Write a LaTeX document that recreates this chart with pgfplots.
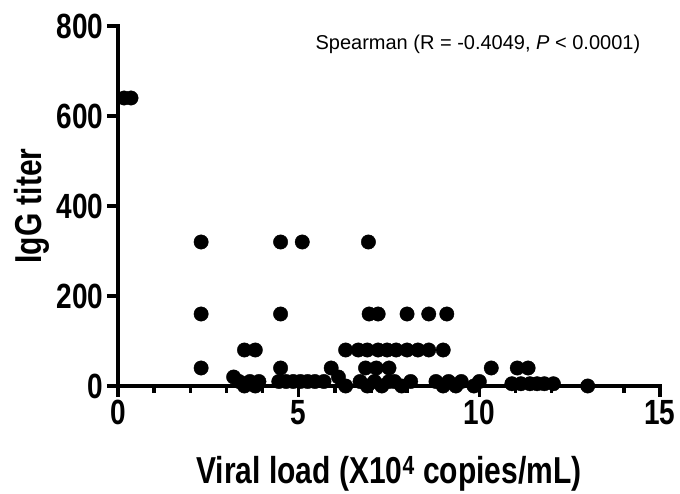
\documentclass[border=0pt]{standalone}
\usepackage{fontspec}
\setmainfont{Liberation Sans}
\newfontfamily\tallfont{Liberation Sans}[FakeStretch=0.8]
\usepackage{pgfplots}
\pgfplotsset{compat=1.18}
\pgfplotsset{every tick/.style={line width=3.5pt, black}}
\begin{document}
\begin{tikzpicture}
\begin{axis}[
  scale only axis, width=542pt, height=360pt,
  xmin=0, xmax=15, ymin=0, ymax=800,
  axis lines=left,
  axis line style={-, line width=3.2pt, line cap=rect},
  xtick={0,5,10,15}, minor x tick num=4,
  ytick={0,200,400,600,800},
  tick align=outside,
  major tick length=11pt, minor tick length=7pt,
  tick style={line width=3.5pt, black, line cap=butt},
  /pgf/number format/assume math mode=true,
  ticklabel style={font=\tallfont\fontsize{35pt}{36pt}\selectfont\bfseries},
  xlabel={Viral load (X10\textsuperscript{4} copies/mL)},
  ylabel={IgG titer},
  label style={font=\tallfont\fontsize{37.5pt}{38pt}\selectfont\bfseries},
  x label style={at={(axis description cs:0.5,0)}, anchor=base, yshift=-98pt},
  y label style={at={(axis description cs:-0.142,0.5)}, anchor=base},
  clip=false,
]
\addplot[only marks, mark=*, mark size=7.2pt, black, mark options={fill=black, draw=black}] coordinates {
(0.17,640) (0.36,640)
(2.3,320) (4.5,320) (5.1,320) (6.93,320)
(2.3,160) (4.5,160) (6.95,160) (7.2,160) (8.0,160) (8.6,160) (9.1,160)
(3.5,80) (3.8,80) (6.3,80) (6.65,80) (6.9,80) (7.2,80) (7.45,80) (7.7,80) (8.0,80) (8.3,80) (8.6,80) (9.0,80)
(2.3,40) (4.5,40) (5.9,40) (6.85,40) (7.15,40) (7.5,40) (10.33,40) (11.05,40) (11.35,40)
(3.2,20) (6.1,20) (6.3,0)
(3.35,10) (3.5,0) (3.65,10) (3.8,0) (3.9,10)
(4.45,10) (4.65,10) (4.85,10) (5.05,10) (5.25,10) (5.45,10) (5.7,10)
(6.7,10) (6.9,0) (7.1,10) (7.3,0) (7.5,10) (7.65,10) (7.85,0) (8.1,10)
(8.8,10) (9.0,0) (9.15,10) (9.35,0) (9.5,10)
(9.85,0) (10.0,10)
(10.9,5) (11.15,5) (11.4,5) (11.6,5) (11.8,5) (12.05,5)
(13.0,0)
};
\node[anchor=base, font=\fontsize{20pt}{22pt}\selectfont] at (axis cs:9.96,747) {Spearman (R = -0.4049, \textit{P} < 0.0001)};
\end{axis}
\pgfresetboundingbox
\path[use as bounding box] ([xshift=-118pt,yshift=-108pt]current axis.south west) rectangle ([xshift=20pt,yshift=26pt]current axis.north east);
\end{tikzpicture}
\end{document}
